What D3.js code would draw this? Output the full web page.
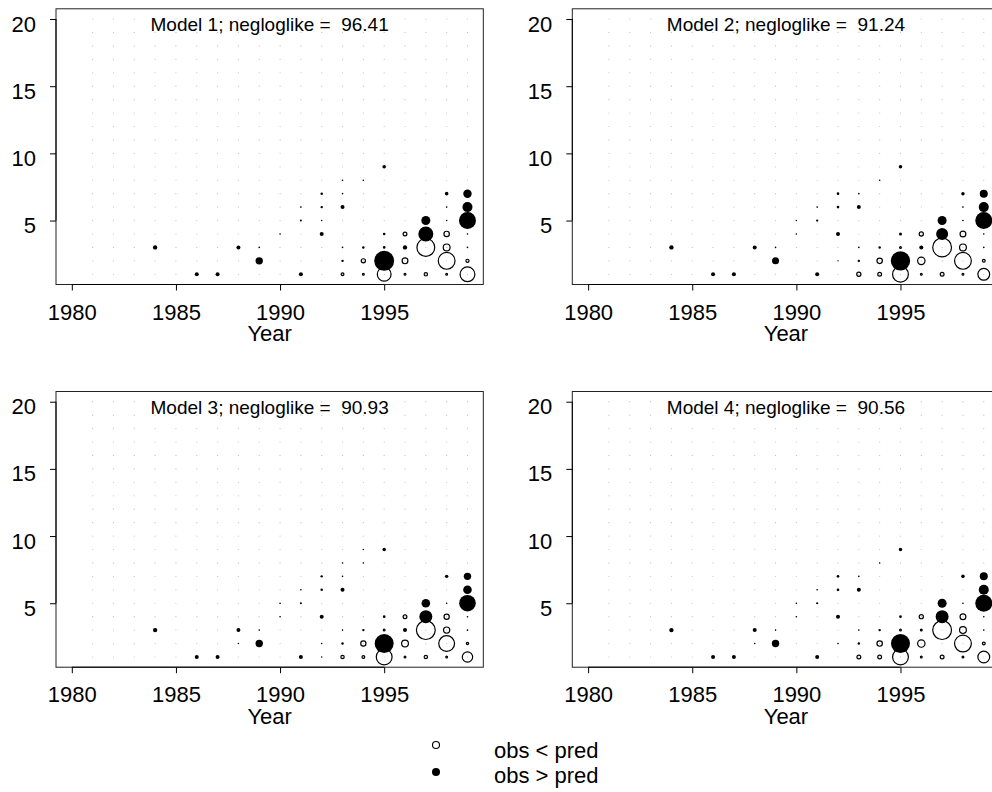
<!DOCTYPE html>
<html><head><meta charset="utf-8">
<script src="https://cdn.jsdelivr.net/npm/d3@7"></script>
<style>
body{margin:0;background:#fff}
svg{display:block}
text{font-family:"Liberation Sans",Arial,Helvetica,sans-serif;fill:#000}
</style></head>
<body><svg id="chart" width="992" height="792"></svg>
<script>
// ---------- data ----------
const years = [1981,1982,1983,1984,1985,1986,1987,1988,1989,1990,1991,1992,1993,1994,1995,1996,1997,1998,1999];
const ages = [1,2,3,4,5,6,7,8,9,10,11,12,13,14,15,16,17,18,19,20];
const xTicks = [1980,1985,1990,1995];
const yTicks = [5,10,15,20];
const modelNames = ["Model 1","Model 2","Model 3","Model 4"];
const negloglike = ["96.41","91.24","90.93","90.56"];

// [year, age, residual]  (positive: obs > pred, negative: obs < pred)
const residModel1 = [
 [1984,3,0.19],[1986,1,0.16],[1987,1,0.16],[1988,3,0.16],
 [1989,2,0.55],[1989,3,0.026],[1990,4,0.026],
 [1991,1,0.16],[1991,5,0.04],[1991,6,0.026],
 [1992,4,0.16],[1992,5,0.026],[1992,6,0.06],[1992,7,0.06],
 [1993,1,-0.16],[1993,2,0.06],[1993,3,0.026],[1993,6,0.16],[1993,7,0.026],[1993,8,0.026],
 [1994,1,-0.09],[1994,2,-0.29],[1994,3,0.06],[1994,8,0.026],
 [1995,1,-2.25],[1995,2,4.0],[1995,3,0.07],[1995,4,0.07],[1995,9,0.13],
 [1996,1,-0.09],[1996,2,-0.49],[1996,3,0.19],[1996,4,-0.25],
 [1997,1,-0.21],[1997,3,-3.61],[1997,4,2.25],[1997,5,0.81],
 [1998,1,-0.09],[1998,2,-3.24],[1998,3,-0.64],[1998,4,-0.44],[1998,5,0.026],[1998,6,0.026],[1998,7,0.13],
 [1999,1,-2.56],[1999,2,-0.19],[1999,3,0.026],[1999,4,0.026],[1999,5,2.89],[1999,6,1.0],[1999,7,0.71]
];
const residModel2 = [
 [1984,3,0.19],[1986,1,0.16],[1987,1,0.16],[1988,3,0.16],
 [1989,2,0.49],[1989,3,0.026],[1990,4,0.026],[1990,5,0.026],
 [1991,1,0.16],[1991,5,0.05],[1991,6,0.026],
 [1992,2,0.02],[1992,4,0.16],[1992,6,0.07],[1992,7,0.07],
 [1993,1,-0.29],[1993,2,0.06],[1993,3,0.026],[1993,6,0.16],[1993,7,0.026],
 [1994,1,-0.25],[1994,2,-0.44],[1994,3,0.06],[1994,8,0.026],
 [1995,1,-2.89],[1995,2,3.76],[1995,3,-0.09],[1995,4,0.09],[1995,9,0.12],
 [1996,1,-0.09],[1996,2,-0.74],[1996,3,0.16],[1996,4,-0.29],
 [1997,1,-0.25],[1997,3,-4.0],[1997,4,1.44],[1997,5,0.81],
 [1998,1,-0.09],[1998,2,-3.24],[1998,3,-0.64],[1998,4,-0.49],[1998,5,0.026],[1998,6,0.026],[1998,7,0.12],
 [1999,1,-1.69],[1999,2,-0.16],[1999,3,0.026],[1999,4,0.026],[1999,5,2.89],[1999,6,1.0],[1999,7,0.64]
];
const residModel3 = [
 [1984,3,0.19],[1986,1,0.16],[1987,1,0.16],[1988,2,0.026],[1988,3,0.16],
 [1989,2,0.55],[1989,3,0.026],[1990,4,0.026],[1990,5,0.026],
 [1991,1,0.16],[1991,5,0.04],[1991,6,0.026],
 [1992,1,0.02],[1992,2,0.026],[1992,4,0.16],[1992,6,0.06],[1992,7,0.06],
 [1993,1,-0.21],[1993,2,0.06],[1993,3,0.026],[1993,6,0.16],[1993,7,0.026],[1993,8,0.026],
 [1994,1,-0.16],[1994,2,-0.41],[1994,3,0.06],[1994,8,0.026],[1994,9,0.026],
 [1995,1,-2.89],[1995,2,3.61],[1995,3,-0.09],[1995,4,0.07],[1995,9,0.12],
 [1996,1,-0.09],[1996,2,-0.64],[1996,3,0.16],[1996,4,-0.25],
 [1997,1,-0.21],[1997,3,-4.0],[1997,4,1.69],[1997,5,0.74],
 [1998,1,-0.09],[1998,2,-2.89],[1998,3,-0.55],[1998,4,-0.41],[1998,5,0.026],[1998,7,0.12],
 [1999,1,-1.35],[1999,2,-0.12],[1999,3,0.03],[1999,4,0.026],[1999,5,2.76],[1999,6,0.74],[1999,7,0.55]
];
const residModel4 = [
 [1984,3,0.19],[1986,1,0.16],[1987,1,0.16],[1988,2,0.026],[1988,3,0.16],
 [1989,2,0.55],[1989,3,0.026],[1990,4,0.026],[1990,5,0.026],
 [1991,1,0.16],[1991,5,0.05],[1991,6,0.026],
 [1992,2,0.026],[1992,4,0.16],[1992,6,0.07],[1992,7,0.07],
 [1993,1,-0.25],[1993,2,0.06],[1993,3,0.026],[1993,6,0.16],[1993,7,0.026],
 [1994,1,-0.25],[1994,2,-0.44],[1994,3,0.06],[1994,8,0.026],
 [1995,1,-2.89],[1995,2,3.61],[1995,3,-0.09],[1995,4,0.07],[1995,9,0.12],
 [1996,1,-0.09],[1996,2,-0.74],[1996,3,0.09],[1996,4,-0.29],
 [1997,1,-0.25],[1997,3,-4.0],[1997,4,1.69],[1997,5,0.81],
 [1998,1,-0.09],[1998,2,-3.24],[1998,3,-0.64],[1998,4,-0.49],[1998,5,0.026],[1998,7,0.13],
 [1999,1,-1.69],[1999,2,-0.16],[1999,3,0.026],[1999,4,0.026],[1999,5,2.89],[1999,6,1.0],[1999,7,0.64]
];
const residuals = [residModel1, residModel2, residModel3, residModel4];
const legendLabels = ["obs < pred","obs > pred"];

// ---------- layout ----------
const svg = d3.select("#chart");
svg.append("rect").attr("width",992).attr("height",792).attr("fill","#fff");

const panelW = 427.3, panelH = 275.7;
const panelLeft = [56, 572.3];
const panelTop = [8.8, 391.5];
const rScale = d3.scaleSqrt().domain([0,4]).range([0,10]);
const FONT = '"Liberation Sans",Arial,sans-serif';

residuals.forEach((res, i) => {
  const col = i % 2, row = Math.floor(i / 2);
  const g = svg.append("g").attr("transform", `translate(${panelLeft[col]},${panelTop[row]})`);
  const x = d3.scaleLinear().domain([1979.24, 1999.76]).range([0, panelW]);
  const y = d3.scaleLinear().domain([0.24, 20.76]).range([panelH, 0]);

  // background grid of tiny dots
  const grid = [];
  years.forEach(yr => ages.forEach(a => grid.push([yr, a])));
  g.append("g").selectAll("circle").data(grid).join("circle")
    .attr("cx", d => x(d[0])).attr("cy", d => y(d[1]))
    .attr("r", 0.6).attr("fill", "#c2c2c2");

  // open (negative) then filled (positive)
  const neg = res.filter(d => d[2] < 0), pos = res.filter(d => d[2] >= 0);
  g.append("g").selectAll("circle").data(neg).join("circle")
    .attr("cx", d => x(d[0])).attr("cy", d => y(d[1]))
    .attr("r", d => Math.max(0.8, rScale(-d[2]) - 0.6))
    .attr("fill", "none").attr("stroke", "#000").attr("stroke-width", 1.2);
  g.append("g").selectAll("circle").data(pos).join("circle")
    .attr("cx", d => x(d[0])).attr("cy", d => y(d[1]))
    .attr("r", d => rScale(d[2]))
    .attr("fill", "#000");

  // box
  g.append("rect").attr("x",0).attr("y",0).attr("width",panelW).attr("height",panelH)
    .attr("fill","none").attr("stroke","#222").attr("stroke-width",1);

  // x axis
  const xa = g.append("g").attr("transform", `translate(0,${panelH})`)
    .call(d3.axisBottom(x).tickValues(xTicks).tickFormat(d3.format("d")).tickSize(6).tickSizeOuter(0));
  xa.select(".domain").remove();
  xa.append("line").attr("x1", x(xTicks[0])).attr("x2", x(xTicks[xTicks.length-1]))
    .attr("y1",0).attr("y2",0).attr("stroke","#000");
  xa.selectAll(".tick line").attr("stroke","#000");
  xa.selectAll(".tick text").attr("dy", null).attr("y", 35)
    .style("font-size","22px").attr("fill","#000").style("font-family",FONT);

  // y axis
  const ya = g.append("g").call(d3.axisLeft(y).tickValues(yTicks).tickSize(6).tickSizeOuter(0));
  ya.select(".domain").remove();
  ya.append("line").attr("y1", y(yTicks[0])).attr("y2", y(yTicks[yTicks.length-1]))
    .attr("x1",0).attr("x2",0).attr("stroke","#000");
  ya.selectAll(".tick line").attr("stroke","#000");
  ya.selectAll(".tick text").attr("dy", null).attr("y", 12).attr("x", -20)
    .style("font-size","22px").attr("fill","#000").style("font-family",FONT);

  // x label
  g.append("text").attr("x", x(1989.5)).attr("y", panelH + 57)
    .attr("text-anchor","middle").style("font-size","22px").text("Year");

  // title
  g.append("text").attr("x", panelW/2).attr("y", 22)
    .attr("text-anchor","middle").style("font-size","19px")
    .attr("xml:space","preserve").style("white-space","pre")
    .text(`${modelNames[i]}; negloglike =  ${negloglike[i]}`);
});

// legend
const lg = svg.append("g");
lg.append("circle").attr("cx",436).attr("cy",745).attr("r",3.5)
  .attr("fill","none").attr("stroke","#000").attr("stroke-width",1.1);
lg.append("circle").attr("cx",436).attr("cy",772).attr("r",4).attr("fill","#000");
lg.append("text").attr("x",494).attr("y",758).style("font-size","22px").text(legendLabels[0]);
lg.append("text").attr("x",494).attr("y",783).style("font-size","22px").text(legendLabels[1]);
</script></body></html>
